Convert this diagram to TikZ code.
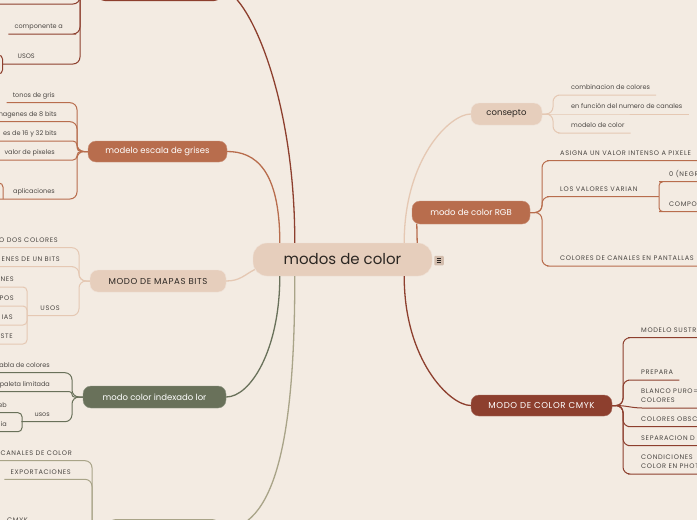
\documentclass[tikz,border=0pt]{standalone}
\usepackage{fontspec}
\setmainfont{Poppins}

\definecolor{paper}{HTML}{F3EBE2}
\definecolor{sand}{HTML}{E6CEBC}
\definecolor{sandline}{HTML}{E5C8B3}
\definecolor{rust}{HTML}{B86D4D}
\definecolor{brick}{HTML}{8D3F2E}
\definecolor{moss}{HTML}{69715A}
\definecolor{khaki}{HTML}{A9A488}
\definecolor{ink}{HTML}{2B2622}

\begin{document}
\begin{tikzpicture}[
  x=1pt, y=-1pt,
  topic/.style    = {rounded corners=8pt, inner sep=0pt, minimum height=22pt,
                     font=\fontsize{8.5}{10}\selectfont},
  topiccaps/.style = {font=\fontsize{8.6}{10}\selectfont\addfontfeatures{LetterSpace=7}},
  capsfont/.style = {font=\fontsize{6.6}{9}\selectfont\addfontfeatures{LetterSpace=10}},
  leafR/.style    = {anchor=south west, inner xsep=6pt, inner ysep=3.5pt,
                     text height=5pt, text depth=1.5pt, text=ink!85,
                     font=\fontsize{6.5}{8}\selectfont},
  leafL/.style    = {leafR, anchor=south east},
  twoline/.style  = {anchor=south west, inner xsep=6pt, inner ysep=3.5pt,
                     align=left, text=ink!85, capsfont},
  link/.style     = {line width=1pt, rounded corners=7pt},
  trunk/.style    = {line width=1.3pt},
]
  \useasboundingbox (0,0) rectangle (697,520);
  \fill[paper] (0,0) rectangle (697,520);
  \clip (0,0) rectangle (697,520);

  % central topic and main branches
  \node[fill=sand, draw=sand!60!white, rounded corners=14pt, minimum width=179pt,
        minimum height=33pt, font=\fontsize{15}{18}\selectfont, text=ink] (root) at (342.5,259.5) {modos de color};
  \node[fill=sand!90!ink, rounded corners=1pt, minimum size=9.5pt, inner sep=0pt] (menu) at (439,260.5) {};
  \draw[ink, line width=0.7pt]
    ([xshift=-2.4pt,yshift=2.3pt]menu.center) -- ([xshift=2.4pt,yshift=2.3pt]menu.center)
    ([xshift=-2.4pt]menu.center) -- ([xshift=2.4pt]menu.center)
    ([xshift=-2.4pt,yshift=-2.3pt]menu.center) -- ([xshift=2.4pt,yshift=-2.3pt]menu.center);

  \node[topic, fill=sand, draw=sand!60!white, text=ink, minimum width=71pt] (consepto) at (506.5,114) {consepto};
  \node[topic, fill=rust, draw=rust!75!white, text=white, minimum width=118pt, minimum height=23pt] (rgb) at (471,212.5) {modo de color RGB};
  \node[topic, topiccaps, fill=brick, draw=brick!75!white, text=white, minimum width=141pt, minimum height=21pt] (cmyk) at (541.5,405.5) {MODO DE COLOR CMYK};
  \node[topic, fill=brick, minimum width=125pt] (topbox) at (159.5,-10) {};
  \node[topic, fill=rust, draw=rust!75!white, text=white, minimum width=139pt, minimum height=21pt] (grises) at (157.5,151.5) {modelo escala de grises};
  \node[topic, topiccaps, fill=sand, draw=sand!60!white, text=ink, minimum width=136pt] (mapas) at (158,281) {MODO DE MAPAS BITS};
  \node[topic, fill=moss, draw=moss!75!white, text=white, minimum width=143pt] (indexado) at (154.5,397) {modo color indexado lor};
  \node[topic, fill=khaki, minimum width=112pt] (botbox) at (164,530) {};

  \draw[trunk, sandline] ([xshift=-28pt]root.north east) .. controls +(0,-84) and +(-21,0) .. (consepto.west);
  \draw[trunk, rust] ([xshift=-15pt]root.north east) -- ([xshift=5pt]rgb.south west);
  \draw[trunk, brick] ([xshift=-28pt]root.south east) .. controls +(0,84) and +(-21,0) .. (cmyk.west);
  \draw[trunk, brick] ([xshift=42pt]root.north west) .. controls +(0,-153) and +(23,0) .. (topbox.east);
  \draw[trunk, rust] ([xshift=27pt]root.north west) .. controls +(0,-73) and +(28,0) .. (grises.east);
  \draw[trunk, sandline] (mapas.east) .. controls +(14,0) and +(-10,5) .. ([xshift=2pt,yshift=-10pt]root.west);
  \draw[trunk, moss] ([xshift=27pt]root.south west) .. controls +(0,74) and +(24,0) .. (indexado.east);
  \draw[trunk, khaki] ([xshift=42pt]root.south west) .. controls +(0,164) and +(55,0) .. (botbox.east);

  % consepto
  \coordinate (cB) at (553,114);
  \node[leafR] (comb)  at (565,95)  {combinacion de colores};
  \node[leafR] (canal) at (565,114) {en función del numero de canales};
  \node[leafR] (model) at (565,133) {modelo de color};
  \draw[link, sandline] (consepto.east) -- (cB) |- (comb.south west) -- (comb.south east);
  \draw[link, sandline] (consepto.east) -- (canal.south west) -- (canal.south east);
  \draw[link, sandline] (consepto.east) -- (cB) |- (model.south west) -- (model.south east);

  % modo de color RGB
  \coordinate (rB) at (542,212.5);
  \coordinate (vB) at (659,196.7);
  \node[leafR, capsfont] (asigna)   at (554,160.7) {ASIGNA UN VALOR INTENSO A PIXELE};
  \node[leafR, capsfont] (varian)   at (554,196.7) {LOS VALORES VARIAN};
  \node[leafR, capsfont] (negro)    at (663,181.7) {0 (NEGR};
  \node[leafR, capsfont] (compo)    at (663,211.7) {COMPO};
  \node[leafR, capsfont] (pantalla) at (554,266)   {COLORES DE CANALES EN PANTALLAS};
  \draw[link, rust] (rgb.east) -- (rB) |- (asigna.south west) -- (asigna.south east);
  \draw[link, rust] (rgb.east) -- (rB) |- (varian.south west) -- (vB);
  \draw[link, rust] (rgb.east) -- (rB) |- (pantalla.south west) -- (pantalla.south east);
  \draw[link, rust, rounded corners=4pt] (vB) |- (negro.south west) -- (negro.south east);
  \draw[link, rust, rounded corners=4pt] (vB) |- (compo.south west) -- (compo.south east);

  % MODO DE COLOR CMYK
  \coordinate (kB) at (623,405.5);
  \node[leafR, capsfont] (sustr)  at (635,337.7) {MODELO SUSTR};
  \node[leafR, capsfont] (prepara) at (635,380)  {PREPARA};
  \node[twoline] (blanco) at (635,408) {BLANCO PURO=\\COLORES\rule[-1.5pt]{0pt}{1.5pt}};
  \node[leafR, capsfont] (obsc)   at (635,426.7) {COLORES OBSC};
  \node[leafR, capsfont] (separa) at (635,445.7) {SEPARACION D};
  \node[twoline] (condi) at (635,474) {CONDICIONES\\COLOR EN PHOT\rule[-1.5pt]{0pt}{1.5pt}};
  \draw[link, brick] (cmyk.east) -- (kB) |- (sustr.south west) -- (sustr.south east);
  \draw[link, brick] (cmyk.east) -- (kB) |- (prepara.south west) -- (prepara.south east);
  \draw[link, brick] (cmyk.east) -- (kB) -- (blanco.south west) -- (blanco.south east);
  \draw[link, brick] (cmyk.east) -- (kB) |- (obsc.south west) -- (obsc.south east);
  \draw[link, brick] (cmyk.east) -- (kB) |- (separa.south west) -- (separa.south east);
  \draw[link, brick] (cmyk.east) -- (kB) |- (condi.south west) -- (condi.south east);

  % top branch (box above the frame)
  \coordinate (tB) at (80,-10);
  \coordinate (topleaf) at (-5,4);
  \coordinate (tuB) at (2.5,64);
  \coordinate (tu1) at (-8,55);
  \coordinate (tu2) at (-8,74);
  \node[leafL] (compa) at (69,34) {componente a};
  \node[leafL] (usosA) at (41,64) {USOS};
  \draw[link, brick] (topbox.west) -- (tB) |- (topleaf);
  \draw[link, brick] (topbox.west) -- (tB) |- (compa.south east) -- (compa.south west);
  \draw[link, brick] (topbox.west) -- (tB) |- (usosA.south east) -- (usosA.south west) -- (tuB);
  \draw[link, brick, rounded corners=4pt] (tuB) |- (tu1);
  \draw[link, brick, rounded corners=4pt] (tuB) |- (tu2);

  % modelo escala de grises
  \coordinate (gB) at (77,151.5);
  \coordinate (gaB) at (3,199);
  \coordinate (ga1) at (-8,183);
  \node[leafL] (tonos) at (61,102.7) {tonos de gris};
  \node[leafL] (ocho)  at (63,121.7) {nagenes de 8 bits};
  \node[leafL] (dieci) at (63,141)   {es de 16 y 32 bits};
  \node[leafL] (valor) at (61,160)   {valor de pixeles};
  \node[leafL] (aplic) at (61,199)   {aplicaciones};
  \draw[link, rust] (grises.west) -- (gB) |- (tonos.south east) -- (tonos.south west);
  \draw[link, rust] (grises.west) -- (gB) |- (ocho.south east) -- (ocho.south west);
  \draw[link, rust, rounded corners=4pt] (grises.west) -- (gB) |- (dieci.south east) -- (dieci.south west);
  \draw[link, rust, rounded corners=4pt] (grises.west) -- (gB) |- (valor.south east) -- (valor.south west);
  \draw[link, rust] (grises.west) -- (gB) |- (aplic.south east) -- (aplic.south west) -- (gaB);
  \draw[link, rust, rounded corners=4pt] (gaB) |- (ga1);

  % MODO DE MAPAS BITS
  \coordinate (mB) at (79,281);
  \coordinate (muB) at (27,315.7);
  \node[leafL, capsfont] (dos)   at (64,247.7) {O DOS COLORES};
  \node[leafL, capsfont] (unbit) at (66,266.7) {ENES DE UN BITS};
  \node[leafL, capsfont] (usosB) at (66,315.7) {USOS};
  \node[leafL, capsfont] (nes) at (20,287) {NES};
  \node[leafL, capsfont] (pos) at (20,306) {POS};
  \node[leafL, capsfont] (ias) at (19,325) {IAS};
  \node[leafL, capsfont] (ste) at (19,344) {STE};
  \draw[link, sandline] (mapas.west) -- (mB) |- (dos.south east) -- (dos.south west);
  \draw[link, sandline] (mapas.west) -- (mB) |- (unbit.south east) -- (unbit.south west);
  \draw[link, sandline] (mapas.west) -- (mB) |- (usosB.south east) -- (usosB.south west) -- (muB);
  \draw[link, sandline, rounded corners=4pt] (muB) |- (nes.south east) -- (nes.south west);
  \draw[link, sandline, rounded corners=4pt] (muB) |- (pos.south east) -- (pos.south west);
  \draw[link, sandline, rounded corners=4pt] (muB) |- (ias.south east) -- (ias.south west);
  \draw[link, sandline, rounded corners=4pt] (muB) |- (ste.south east) -- (ste.south west);

  % modo color indexado
  \coordinate (iB) at (72,397);
  \coordinate (iuB) at (22,421.7);
  \node[leafL] (tabla)  at (56,372.7) {abla de colores};
  \node[leafL] (paleta) at (56,391.7) {paleta limitada};
  \node[leafL] (usosC)  at (56,421.7) {usos};
  \node[leafL] (web)    at (13,412.7) {eb};
  \node[leafL] (ia)     at (13,431.7) {ia};
  \draw[link, moss] (indexado.west) -- (iB) |- (tabla.south east) -- (tabla.south west);
  \draw[link, moss, rounded corners=2.5pt] (indexado.west) -- (iB) |- (paleta.south east) -- (paleta.south west);
  \draw[link, moss] (indexado.west) -- (iB) |- (usosC.south east) -- (usosC.south west) -- (iuB);
  \draw[link, moss, rounded corners=4pt] (iuB) |- (web.south east) -- (web.south west);
  \draw[link, moss, rounded corners=4pt] (iuB) |- (ia.south east) -- (ia.south west);

  % bottom branch (box below the frame)
  \coordinate (bB) at (92,530);
  \node[leafL, capsfont] (canales) at (78,460.7) {CANALES DE COLOR};
  \node[leafL, capsfont] (export)  at (77,479.3) {EXPORTACIONES};
  \node[leafR, capsfont] (cmykB)   at (1,528)    {CMYK};
  \draw[link, khaki] (botbox.west) -- (bB) |- (canales.south east) -- (canales.south west);
  \draw[link, khaki] (botbox.west) -- (bB) |- (export.south east) -- (export.south west);
  \draw[link, khaki] (botbox.west) -- (cmykB.south east) -- (cmykB.south west);
\end{tikzpicture}
\end{document}
